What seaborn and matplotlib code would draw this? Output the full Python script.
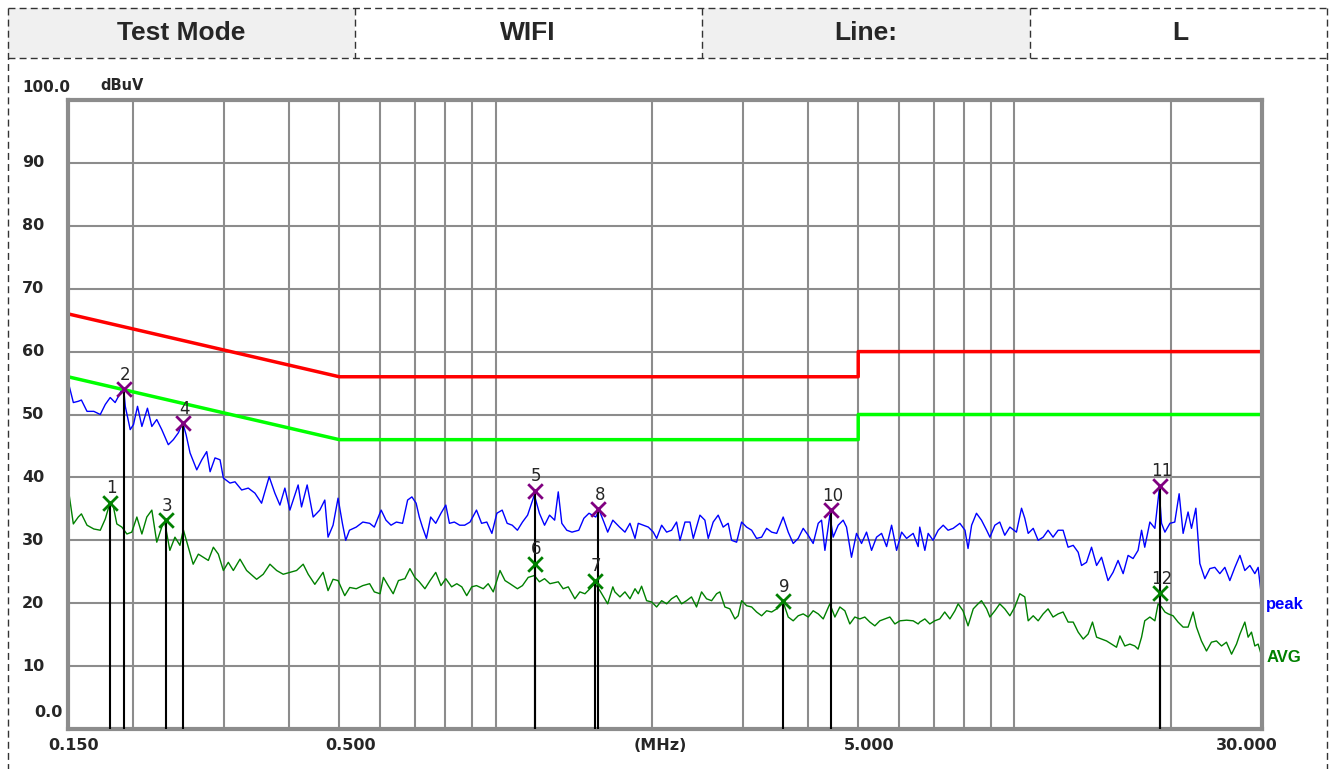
import matplotlib
matplotlib.use("Agg")
import matplotlib.pyplot as plt
import seaborn as sns
from matplotlib.patches import Rectangle
from matplotlib.lines import Line2D

# ---- header table ----
header_labels = ["Test Mode", "WIFI", "Line:", "L"]

# ---- limit lines (MHz / dBuV) ----
limit_freq = [0.15, 0.5, 5.0, 5.0, 30.0]
qp_limit = [66, 56, 56, 60, 60]
avg_limit = [56, 46, 46, 50, 50]

# ---- peak trace ----
peak_freq = [
    0.150, 0.1536, 0.1570, 0.1592, 0.1632, 0.1682, 0.1731, 0.1770, 0.1809, 0.1849,
    0.1885, 0.1905, 0.1922, 0.1934, 0.1977, 0.2006, 0.2042, 0.2082, 0.2134, 0.2176,
    0.2224, 0.2274, 0.2341, 0.2394, 0.2448, 0.2496, 0.2533, 0.2578, 0.2656, 0.2716,
    0.2776, 0.2818, 0.2880, 0.2945, 0.2989, 0.3078, 0.3147, 0.3242, 0.3338, 0.3438,
    0.3541, 0.3663, 0.3756, 0.3841, 0.3927, 0.4015, 0.4165, 0.4228, 0.4335, 0.4452,
    0.4585, 0.4688, 0.4756, 0.4863, 0.4972, 0.5071, 0.5144,
    0.523, 0.539, 0.555, 0.572, 0.584, 0.602, 0.615, 0.629, 0.644, 0.662,
    0.677, 0.690, 0.703, 0.713, 0.723, 0.736, 0.750, 0.767, 0.785, 0.802,
    0.815, 0.833, 0.853, 0.872, 0.893, 0.919, 0.940, 0.962, 0.984, 1.006,
    1.030, 1.053, 1.077, 1.102, 1.127, 1.153, 1.188, 1.215, 1.243, 1.271,
    1.300, 1.321, 1.342, 1.372, 1.404, 1.447, 1.480, 1.514, 1.560, 1.584,
    1.621, 1.645, 1.683, 1.734,
    1.776, 1.816, 1.857, 1.884, 1.926, 1.970, 2.014, 2.044, 2.090, 2.137,
    2.184, 2.233, 2.267, 2.318, 2.370, 2.405, 2.477, 2.532, 2.570, 2.627,
    2.686, 2.746, 2.808, 2.851, 2.915, 2.980, 3.047, 3.116, 3.185, 3.257,
    3.330, 3.405, 3.482, 3.584, 3.665, 3.747, 3.831, 3.917, 4.005, 4.094,
    4.187, 4.249, 4.313, 4.409, 4.474, 4.575, 4.677, 4.747, 4.853, 4.962,
    5.074, 5.188, 5.305, 5.424, 5.546, 5.671, 5.798, 5.928, 6.062, 6.197,
    6.381, 6.524,
    6.57, 6.72, 6.82, 6.97, 7.13, 7.29, 7.45, 7.62, 7.85, 8.03,
    8.14, 8.27, 8.45, 8.64, 8.84, 8.97, 9.17, 9.37, 9.58, 9.80,
    10.09, 10.32, 10.47, 10.63, 10.87, 11.11, 11.36, 11.61, 11.87, 12.14,
    12.41, 12.69, 12.98, 13.27, 13.47, 13.77, 14.08, 14.40, 14.72, 14.93,
    15.15, 15.49, 15.84, 16.20, 16.56, 16.93, 17.31, 17.58, 17.83, 18.24,
    18.65, 19.01, 19.21, 19.50, 19.94, 20.37, 20.77, 21.14, 21.61, 21.94,
    22.37, 22.77, 23.28, 23.80, 24.33, 24.88, 25.44, 26.01, 26.60, 27.20,
    27.80, 28.43, 29.06, 29.49, 30.00,
]
peak_dbuv = [
    55.3, 51.9, 52.1, 52.3, 50.5, 50.5, 50.0, 51.6, 52.7, 51.9,
    53.2, 54.0, 53.8, 51.3, 47.6, 48.4, 51.3, 48.1, 51.0, 48.1,
    49.2, 47.6, 45.2, 46.0, 47.1, 48.7, 46.8, 43.9, 41.2, 42.8,
    44.1, 40.9, 43.1, 42.8, 39.9, 39.1, 39.3, 38.0, 38.3, 37.5,
    35.9, 40.1, 37.5, 35.6, 38.3, 34.8, 38.8, 35.3, 38.8, 33.7,
    34.8, 36.4, 30.5, 32.4, 36.7, 32.6, 30.0,
    31.6, 32.1, 32.9, 32.7, 32.1, 34.8, 33.2, 32.4, 32.9, 32.7,
    36.4, 36.9, 35.9, 33.7, 32.1, 30.3, 33.7, 32.7, 34.3, 35.6,
    32.7, 32.9, 32.4, 32.4, 32.9, 34.8, 32.7, 32.9, 31.1, 34.3,
    34.8, 32.7, 32.4, 31.6, 32.9, 34.0, 37.2, 34.3, 32.4, 34.0,
    33.2, 37.7, 32.7, 31.6, 31.3, 31.6, 33.5, 34.3, 33.7, 34.8,
    32.7, 31.3, 33.2, 32.1,
    31.3, 32.7, 30.3, 32.7, 32.4, 32.1, 31.3, 30.3, 32.4, 31.3,
    31.6, 32.9, 30.0, 32.9, 32.9, 30.3, 34.0, 33.2, 30.3, 32.9,
    34.0, 32.1, 32.7, 30.0, 29.7, 32.9, 32.1, 31.6, 30.3, 30.5,
    31.9, 31.3, 31.1, 33.7, 31.3, 29.5, 30.3, 31.9, 30.8, 29.5,
    32.7, 33.2, 28.4, 34.0, 30.5, 32.4, 33.2, 32.1, 27.3, 31.1,
    29.5, 31.3, 28.4, 30.5, 31.1, 29.0, 32.4, 28.4, 31.3, 30.3,
    31.1, 29.0,
    32.1, 28.4, 31.1, 30.0, 31.6, 32.4, 31.6, 31.9, 32.7, 31.6,
    28.7, 32.4, 34.3, 33.2, 31.6, 30.5, 32.4, 32.9, 30.8, 32.1,
    31.3, 35.1, 33.5, 31.1, 31.9, 30.0, 30.5, 31.6, 30.5, 31.6,
    31.6, 28.9, 29.2, 28.1, 26.0, 26.5, 28.9, 26.0, 27.3, 25.5,
    23.6, 24.9, 26.8, 24.7, 27.6, 27.1, 28.4, 31.6, 28.9, 32.9,
    31.9, 38.0, 32.7, 31.3, 32.7, 32.9, 37.4, 31.1, 34.5, 31.9,
    35.1, 26.3, 23.9, 25.5, 25.7, 24.7, 25.7, 23.6, 25.7, 27.6,
    25.2, 26.0, 24.7, 25.7, 20.3,
]

# ---- average trace ----
avg_freq = [
    0.150, 0.1536, 0.1570, 0.1592, 0.1632, 0.1682, 0.1731, 0.1770, 0.1809, 0.1835,
    0.1863, 0.1905, 0.1948, 0.1991, 0.2036, 0.2082, 0.2128, 0.2176, 0.2224, 0.2274,
    0.2304, 0.2357, 0.2411, 0.2465, 0.2502, 0.2558, 0.2614, 0.2675, 0.2735, 0.2796,
    0.2859, 0.2923, 0.2989, 0.3055, 0.3124, 0.3218, 0.3314, 0.3464, 0.3567, 0.3675,
    0.3786, 0.3898, 0.4015, 0.4136, 0.4259, 0.4355, 0.4485, 0.4653, 0.4756, 0.4863,
    0.4972, 0.5122, 0.5237,
    0.539, 0.555, 0.572, 0.584, 0.599, 0.608, 0.621, 0.635, 0.650, 0.669,
    0.684, 0.699, 0.713, 0.731, 0.748, 0.767, 0.785, 0.802, 0.823, 0.842,
    0.861, 0.880, 0.900, 0.919, 0.947, 0.968, 0.990, 1.020, 1.043, 1.066,
    1.102, 1.127, 1.156, 1.188, 1.215, 1.243, 1.273, 1.321, 1.350, 1.381,
    1.422, 1.454, 1.487, 1.520, 1.554, 1.589, 1.645, 1.683, 1.698, 1.737,
    1.776, 1.816, 1.857, 1.884, 1.912, 1.955, 1.999, 2.044, 2.090, 2.137,
    2.184, 2.233, 2.283, 2.334, 2.386, 2.440, 2.495, 2.551, 2.609, 2.667,
    2.706, 2.767, 2.829, 2.893, 2.935, 2.980, 3.047, 3.116, 3.185, 3.257,
    3.330, 3.405, 3.482, 3.576, 3.665, 3.747, 3.831, 3.917, 4.005, 4.094,
    4.187, 4.281, 4.409, 4.508, 4.609, 4.712, 4.817, 4.925, 5.036, 5.148,
    5.265, 5.383, 5.503, 5.628, 5.754, 5.883, 6.015, 6.197, 6.381, 6.524,
    6.57, 6.72, 6.87, 7.02, 7.18, 7.34, 7.51, 7.68, 7.79, 7.96,
    8.14, 8.33, 8.51, 8.64, 8.84, 8.97, 9.17, 9.37, 9.58, 9.80,
    10.02, 10.24, 10.47, 10.63, 10.87, 11.11, 11.36, 11.61, 11.87, 12.14,
    12.41, 12.69, 12.98, 13.27, 13.57, 13.87, 14.14, 14.40, 14.72, 15.05,
    15.38, 15.73, 15.97, 16.32, 16.69, 17.06, 17.31, 17.58, 17.83, 18.24,
    18.65, 18.92, 19.21, 19.50, 19.79, 20.22, 20.67, 21.14, 21.61, 22.10,
    22.43, 22.93, 23.45, 23.97, 24.51, 25.07, 25.62, 26.21, 26.79, 27.20,
    27.80, 28.21, 28.63, 29.06, 29.49, 30.00,
]
avg_dbuv = [
    38.5, 32.6, 33.7, 34.2, 32.4, 31.8, 31.6, 33.4, 36.1, 35.3,
    32.6, 32.1, 31.0, 31.3, 33.7, 31.0, 33.7, 34.8, 29.7, 32.1,
    32.9, 28.4, 30.5, 29.2, 31.7, 28.9, 26.2, 27.8, 27.3, 26.8,
    28.9, 27.8, 25.2, 26.5, 25.2, 27.0, 25.2, 23.8, 24.6, 26.2,
    25.2, 24.6, 24.9, 25.2, 26.2, 24.6, 23.0, 24.9, 22.0, 23.8,
    23.6, 21.2, 22.5,
    22.3, 22.8, 23.1, 21.8, 21.5, 24.1, 22.8, 21.5, 23.6, 23.9,
    25.5, 24.1, 23.4, 22.3, 23.6, 24.9, 22.8, 23.9, 22.6, 23.1,
    22.6, 21.2, 22.6, 22.8, 22.3, 23.1, 21.8, 25.2, 23.6, 23.1,
    22.3, 22.8, 24.1, 24.4, 23.4, 23.9, 23.1, 23.4, 22.3, 22.6,
    20.7, 21.8, 21.5, 22.3, 23.1, 22.0, 19.9, 22.6, 21.8, 21.0,
    21.8, 20.7, 22.3, 21.5, 22.7, 20.4, 20.2, 19.4, 20.4, 19.9,
    20.7, 21.2, 19.9, 20.4, 21.0, 19.4, 21.8, 20.7, 20.4, 21.5,
    21.8, 19.4, 19.1, 17.5, 18.0, 20.4, 19.6, 19.4, 18.6, 18.0,
    18.8, 18.6, 19.1, 20.4, 17.8, 17.2, 18.0, 18.3, 17.8, 18.8,
    18.3, 17.5, 19.9, 17.8, 19.4, 18.8, 16.7, 17.8, 17.5, 17.8,
    17.0, 16.4, 17.2, 17.5, 17.8, 16.7, 17.2, 17.3, 17.2, 16.7,
    17.0, 17.5, 16.7, 17.2, 17.5, 18.6, 17.5, 18.8, 19.9, 18.8,
    16.4, 19.1, 19.9, 20.4, 19.1, 17.8, 18.8, 19.9, 19.1, 18.0,
    19.4, 21.5, 21.0, 17.2, 18.0, 17.2, 18.3, 19.1, 17.8, 18.3,
    18.6, 17.0, 17.0, 15.4, 14.3, 15.1, 17.0, 14.6, 14.3, 14.0,
    13.5, 13.0, 14.8, 13.2, 13.5, 13.2, 12.7, 14.6, 17.2, 17.8,
    17.2, 19.9, 19.4, 18.6, 18.3, 18.0, 17.0, 16.2, 16.2, 18.6,
    16.2, 14.0, 12.4, 13.8, 14.0, 13.2, 13.8, 11.9, 13.5, 15.1,
    17.0, 14.6, 15.4, 13.2, 13.5, 11.4,
]

# ---- final measurement markers ----
peak_mark_no = [2, 4, 5, 8, 10, 11]
peak_mark_freq = [0.192, 0.250, 1.191, 1.578, 4.43, 19.07]
peak_mark_dbuv = [54.0, 48.6, 37.9, 34.9, 34.8, 38.7]
avg_mark_no = [1, 3, 6, 7, 9, 12]
avg_mark_freq = [0.181, 0.2316, 1.191, 1.552, 3.58, 19.07]
avg_mark_dbuv = [36.0, 33.2, 26.3, 23.6, 20.3, 21.6]

grid_freq = [0.2, 0.3, 0.4, 0.5, 0.6, 0.7, 0.8, 0.9, 1, 2, 3, 4, 5, 6, 7, 8, 9, 10, 20]
grid_dbuv = [10, 20, 30, 40, 50, 60, 70, 80, 90]

sns.set_style("white")
plt.rcParams["font.family"] = ["Liberation Sans", "DejaVu Sans"]

W, H = 1332, 769
fig = plt.figure(figsize=(W / 100, H / 100), dpi=100)


def fx(x):
    return x / W


def fy(y):
    return 1 - y / H


# header cells and dashed frame
for x0, x1 in [(8, 355), (702, 1030)]:
    fig.patches.append(Rectangle((fx(x0), fy(58)), fx(x1 - x0), (58 - 8) / H,
                                 transform=fig.transFigure, facecolor="#f0f0f0",
                                 edgecolor="none", zorder=0))
dash = dict(color="#333333", lw=1, linestyle=(0, (5, 3)), transform=fig.transFigure)
fig.lines.append(Line2D([fx(8), fx(1327)], [fy(8), fy(8)], **dash))
fig.lines.append(Line2D([fx(8), fx(1327)], [fy(58), fy(58)], **dash))
fig.lines.append(Line2D([fx(8), fx(8)], [fy(8), 0], **dash))
fig.lines.append(Line2D([fx(1327), fx(1327)], [fy(8), 0], **dash))
for xd in [355, 702, 1030]:
    fig.lines.append(Line2D([fx(xd), fx(xd)], [fy(8), fy(58)], **dash))
for label, xc in zip(header_labels, [181, 528, 866, 1180]):
    fig.text(fx(xc), fy(33), label, ha="center", va="center",
             fontsize=19, fontweight="bold")

ax = fig.add_axes([fx(68), fy(729), (1262 - 68) / W, (729 - 100) / H])
ax.set_xscale("log")
ax.set_xlim(0.15, 30)
ax.set_ylim(0, 100)
ax.set_xticks(grid_freq)
ax.set_xticks([], minor=True)
ax.set_yticks(grid_dbuv)
ax.set_xticklabels([])
ax.set_yticklabels([])
ax.tick_params(length=0)
ax.grid(True, color="#8c8c8c", lw=1.5)
for sp in ax.spines.values():
    sp.set_color("#8c8c8c")
    sp.set_linewidth(3)

sns.lineplot(x=peak_freq, y=peak_dbuv, color="#0000ff", linewidth=1,
             estimator=None, sort=False, ax=ax)
sns.lineplot(x=avg_freq, y=avg_dbuv, color="#008000", linewidth=1,
             estimator=None, sort=False, ax=ax)
sns.lineplot(x=limit_freq, y=qp_limit, color="#ff0000", linewidth=2.5,
             estimator=None, sort=False, ax=ax)
sns.lineplot(x=limit_freq, y=avg_limit, color="#00ff00", linewidth=2.5,
             estimator=None, sort=False, ax=ax)

ax.vlines(peak_mark_freq + avg_mark_freq, 0, peak_mark_dbuv + avg_mark_dbuv,
          color="black", lw=1.5, zorder=4)
sns.scatterplot(x=peak_mark_freq, y=peak_mark_dbuv, marker="x", s=110,
                color="#800080", linewidth=2, ax=ax, zorder=5)
sns.scatterplot(x=avg_mark_freq, y=avg_mark_dbuv, marker="x", s=110,
                color="#008000", linewidth=2, ax=ax, zorder=5)
num_font = ["DejaVu Sans"]
for n, f, v in zip(peak_mark_no + avg_mark_no, peak_mark_freq + avg_mark_freq,
                   peak_mark_dbuv + avg_mark_dbuv):
    ax.annotate(str(n), (f, v), xytext=(1, 4), textcoords="offset points",
                ha="center", va="bottom", fontsize=12, family=num_font, zorder=6)

# y labels
for v in grid_dbuv:
    ax.annotate(str(v), (22, v), xycoords=("figure pixels", "data"),
                ha="left", va="center", fontsize=11.5, fontweight="bold",
                family=num_font, annotation_clip=False)
ax.annotate("100.0", (22, 100), xycoords=("figure pixels", "data"),
            xytext=(0, 9), textcoords="offset points", ha="left", va="center",
            fontsize=11, fontweight="bold", family=num_font, annotation_clip=False)
ax.annotate("0.0", (34, 0), xycoords=("figure pixels", "data"),
            xytext=(0, 12), textcoords="offset points", ha="left", va="center",
            fontsize=11.5, fontweight="bold", family=num_font, annotation_clip=False)
fig.text(fx(100), fy(85), "dBuV", ha="left", va="center", fontsize=10.5,
         fontweight="bold", family=num_font)

# x labels
for txt, f, dx in [("0.150", 0.15, 4), ("0.500", 0.5, 8), ("5.000", 5.0, 8),
                   ("30.000", 30.0, -11)]:
    ax.annotate(txt, (f, 0), xycoords=("data", "axes fraction"),
                xytext=(dx, -12), textcoords="offset points", ha="center",
                va="center", fontsize=11.5, fontweight="bold", family=num_font,
                annotation_clip=False)
ax.annotate("(MHz)", (0.496, 0), xycoords="axes fraction", xytext=(0, -12),
            textcoords="offset points", ha="center", va="center", fontsize=11.5,
            fontweight="bold", family=num_font, annotation_clip=False)

ax.annotate("peak", (30, peak_dbuv[-1]), xytext=(3, -2), textcoords="offset points",
            ha="left", va="center", color="#0000ff", fontsize=12, fontweight="bold",
            annotation_clip=False)
ax.annotate("AVG", (30, avg_dbuv[-1]), xytext=(3, 0), textcoords="offset points",
            ha="left", va="center", color="#008000", fontsize=12, fontweight="bold",
            annotation_clip=False)

fig.savefig("out.png", dpi=100)
